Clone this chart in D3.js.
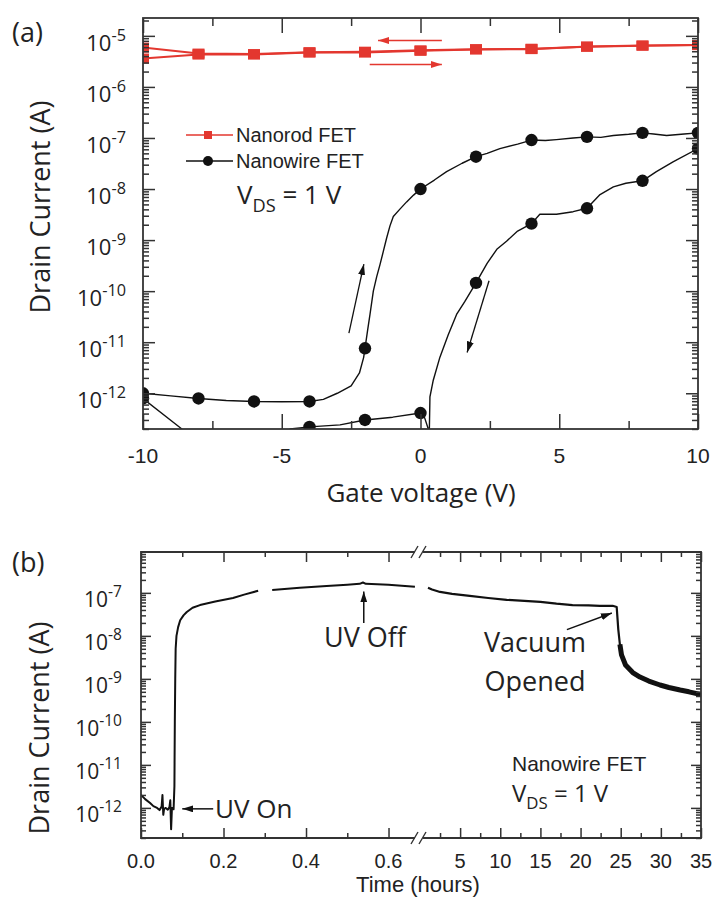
<!DOCTYPE html>
<html>
<head>
<meta charset="utf-8">
<script src="https://cdn.jsdelivr.net/npm/d3@7"></script>
</head>
<body style="margin:0">
<svg id="fig" width="713" height="899"></svg>
<script>
// ---------- panel (a): transfer curves, Id vs Vg ----------
var rodVg  = [-10, -8, -6, -4, -2, 0, 2, 4, 6, 8, 10];
var rodFwd = [3.6e-6, 4.3e-6, 4.3e-6, 4.7e-6, 4.7e-6, 5.1e-6, 5.4e-6, 5.5e-6, 6.2e-6, 6.5e-6, 6.6e-6];
var rodRev = [5.9e-6, 4.5e-6, 4.4e-6, 4.8e-6, 4.9e-6, 5.2e-6, 5.5e-6, 5.6e-6, 6.1e-6, 6.4e-6, 6.6e-6];

// nanowire, sweep -10 -> 10
var wireFwdVg = [-10, -9, -8, -7, -6, -5, -4, -3.5, -3, -2.5, -2.2, -2.05, -2, -1.9, -1.82, -1.7, -1.58, -1.46,
                 -1.34, -1.22, -1.1, -0.98, -0.75, -0.5, -0.25, 0, 0.5, 0.94, 1.5, 2, 2.4, 2.86, 3.5, 4, 4.5, 4.9,
                 5.5, 6, 6.5, 6.95, 7.5, 8, 8.4, 8.87, 9.5, 10];
var wireFwdI  = [1.0e-12, 8.9e-13, 7.9e-13, 7.2e-13, 6.9e-13, 6.8e-13, 6.9e-13, 7.6e-13, 1.0e-12, 1.4e-12, 2.5e-12,
                 5.0e-12, 7.6e-12, 1.8e-11, 3.5e-11, 1.0e-10, 1.9e-10, 3.3e-10, 6.0e-10, 1.1e-9, 1.9e-9, 2.9e-9,
                 4.0e-9, 5.6e-9, 7.6e-9, 1.0e-8, 1.5e-8, 2.2e-8, 3.2e-8, 4.3e-8, 5.0e-8, 6.2e-8, 7.6e-8, 9.1e-8,
                 8.9e-8, 9.3e-8, 1.0e-7, 1.05e-7, 1.03e-7, 1.12e-7, 1.18e-7, 1.26e-7, 1.2e-7, 1.12e-7, 1.2e-7, 1.26e-7];
// nanowire, sweep 10 -> -10
var wireRevVg = [10, 9.1, 8.5, 8, 7.4, 6.95, 6.47, 6, 5.5, 4.9, 4.3, 4, 3.5, 3.1, 2.75, 2.4, 2, 1.6, 1.3, 1.0,
                 0.7, 0.46, 0.34, 0.32, 0.30, 0.28, 0.15, 0, -1, -2, -2.9, -4, -4.7, -5, -6, -8, -8.3, -8.6, -10];
var wireRevI  = [6.2e-8, 3.4e-8, 2.2e-8, 1.45e-8, 1.3e-8, 1.1e-8, 7.8e-9, 4.2e-9, 3.6e-9, 3.2e-9, 3.2e-9, 2.1e-9,
                 1.5e-9, 9.5e-10, 6.6e-10, 3.5e-10, 1.45e-10, 6.3e-11, 3.5e-11, 1.4e-11, 5.1e-12, 1.8e-12, 8.5e-13,
                 2.0e-13, 3.0e-14, 2.0e-13, 3.3e-13, 4.1e-13, 3.4e-13, 3.0e-13, 2.4e-13, 2.2e-13, 2.0e-13, 6.0e-14,
                 6.0e-14, 6.0e-14, 6.0e-14, 2.0e-13, 7.9e-13];

var gateMajor = [-10, -5, 0, 5, 10];
var gateMinor = [-7.5, -2.5, 2.5, 7.5];

// ---------- panel (b): current vs time, broken time axis ----------
var timeA = [0, 0.01, 0.022, 0.03, 0.039, 0.045, 0.05, 0.052, 0.054, 0.056, 0.06, 0.065, 0.069, 0.071, 0.073, 0.075,
             0.079, 0.081, 0.082, 0.083, 0.084, 0.086, 0.09, 0.095, 0.103, 0.111, 0.125, 0.143, 0.18, 0.223, 0.25,
             0.284, 0.30, 0.318, 0.385, 0.45, 0.50, 0.53, 0.538, 0.545, 0.60, 0.664];
var currA = [2.0e-12, 1.6e-12, 1.3e-12, 1.1e-12, 1.0e-12, 8.9e-13, 1.07e-12, 2.0e-12, 6.9e-13, 9.5e-13, 1.0e-12,
             9.1e-13, 1.05e-12, 1.5e-12, 3.2e-13, 1.0e-12, 9.3e-13, 3.2e-12, 1e-10, 1e-9, 5e-9, 1e-8, 1.6e-8, 2.3e-8,
             3.0e-8, 3.6e-8, 4.5e-8, 5.2e-8, 6.3e-8, 7.6e-8, 9.1e-8, 1.12e-7, null, 1.17e-7, 1.32e-7, 1.45e-7,
             1.55e-7, 1.62e-7, 1.74e-7, 1.62e-7, 1.55e-7, 1.38e-7];
var timeB = [1, 1.5, 2.5, 4, 6.2, 8.5, 10.8, 13, 15, 17, 19, 21, 22.4, 24, 24.5, 24.7, 24.9, 25.1, 25.6, 26.5,
             27.4, 28.5, 29.9, 31, 32.4, 33.5, 35];
var currB = [1.32e-7, 1.2e-7, 1.05e-7, 9.5e-8, 8.5e-8, 7.6e-8, 6.9e-8, 6.5e-8, 6.2e-8, 5.6e-8, 5.2e-8, 5.1e-8,
             5.0e-8, 5.0e-8, 4.7e-8, 1.4e-8, 6.3e-9, 3.6e-9, 2.1e-9, 1.4e-9, 1.1e-9, 8.9e-10, 7.2e-10, 6.3e-10,
             5.5e-10, 5.0e-10, 4.3e-10];

var timeMajorA = [0, 0.2, 0.4, 0.6];
var timeMinorA = [0.1, 0.3, 0.5];
var timeMajorB = [5, 10, 15, 20, 25, 30, 35];
var timeMinorB = [2.5, 7.5, 12.5, 17.5, 22.5, 27.5, 32.5];

// ---------------------------------------------------------------
var svg = d3.select("#fig");
var arial = "'Liberation Sans', Arial, sans-serif";
var openSans = "'Open Sans', 'Noto Sans', sans-serif";
var red = "#e3372f";
var ink = "#111";
var axisColor = "#333";

var defs = svg.append("defs");
function arrowHead(id, color, w, l) {
    defs.append("marker")
        .attr("id", id)
        .attr("markerUnits", "userSpaceOnUse")
        .attr("markerWidth", l).attr("markerHeight", w)
        .attr("viewBox", "0 0 " + l + " " + w)
        .attr("refX", l).attr("refY", w / 2)
        .attr("orient", "auto")
        .append("path")
        .attr("d", "M0,0L" + l + "," + (w / 2) + "L0," + w + "Z")
        .attr("fill", color);
}
arrowHead("headK", ink, 7, 11);
arrowHead("headR", red, 7, 11);

function isMajor(d) {
    var l = Math.log10(d);
    return Math.abs(l - Math.round(l)) < 1e-6;
}

// one d3 axis per edge, ticks turned inward, no labels, no domain line
function inTicks(maker, scale, vals, tx, ty, len) {
    var g = svg.append("g")
        .attr("transform", "translate(" + tx + "," + ty + ")")
        .call(maker(scale).tickValues(vals).tickSizeInner(-len).tickSizeOuter(0).tickFormat(""));
    g.select(".domain").remove();
    g.selectAll(".tick line").attr("stroke", axisColor).attr("stroke-width", 1.5);
    return g;
}
function logTicks(y, left, right, majLen, minLen) {
    var all = y.ticks();
    var major = all.filter(isMajor);
    var minor = all.filter(function(d) { return !isMajor(d); });
    inTicks(d3.axisLeft, y, minor, left, 0, minLen);
    inTicks(d3.axisRight, y, minor, right, 0, minLen);
    inTicks(d3.axisLeft, y, major, left, 0, majLen);
    inTicks(d3.axisRight, y, major, right, 0, majLen);
}

function logLabels(g, y, labelX, fs, dy) {
    var major = y.ticks().filter(isMajor);
    g.append("g").selectAll("text").data(major).enter().append("text")
        .attr("x", labelX)
        .attr("y", function(d) { return y(d) + dy; })
        .attr("text-anchor", "end")
        .attr("font-family", openSans)
        .attr("font-size", fs)
        .attr("fill", "#222")
        .each(function(d) {
            var t = d3.select(this);
            t.append("tspan").text("10");
            t.append("tspan").attr("dy", "-0.62em").attr("font-size", "0.74em")
                .text(Math.round(Math.log10(d)));
        });
}

function xLabels(g, x, vals, yy, fmt, fs) {
    g.append("g").selectAll("text").data(vals).enter().append("text")
        .attr("x", function(d) { return x(d); })
        .attr("y", yy)
        .attr("text-anchor", "middle")
        .attr("font-family", arial).attr("font-size", fs).attr("fill", "#222")
        .text(fmt);
}

function pts(xs, ys) {
    return xs.map(function(v, i) { return { x: v, y: ys[i] }; });
}

// ================= panel (a) =================
var xA = d3.scaleLinear().domain([-10, 10]).range([143, 698]);
var yA = d3.scaleLog().domain([Math.pow(10, -12.7), Math.pow(10, -4.65)]).range([429, 18]);
var gA = svg.append("g");

defs.append("clipPath").attr("id", "clipA").append("rect")
    .attr("x", 143).attr("y", 18).attr("width", 555).attr("height", 411);

logLabels(gA, yA, 126, 22, 15);
xLabels(gA, xA, gateMajor, 463, function(d) { return String(d); }, 21);

var plotA = gA.append("g").attr("clip-path", "url(#clipA)");
var lineA = d3.line()
    .x(function(d) { return xA(d.x); })
    .y(function(d) { return yA(d.y); });

var rodF = pts(rodVg, rodFwd), rodR = pts(rodVg, rodRev);
var wireF = pts(wireFwdVg, wireFwdI), wireR = pts(wireRevVg, wireRevI);

[rodF, rodR].forEach(function(s) {
    plotA.append("path").datum(s)
        .attr("fill", "none").attr("stroke", red).attr("stroke-width", 2)
        .attr("d", lineA);
});
plotA.append("path").datum(wireF.concat(wireR))
    .attr("fill", "none").attr("stroke", ink).attr("stroke-width", 1.4)
    .attr("stroke-linejoin", "round")
    .attr("d", lineA);

var sq = 12;
plotA.selectAll("rect.rod")
    .data(rodF.concat(rodR))
    .enter().append("rect")
    .attr("class", "rod")
    .attr("x", function(d) { return xA(d.x) - sq / 2; })
    .attr("y", function(d) { return yA(d.y) - sq / 2 + 1; })
    .attr("width", sq).attr("height", sq - 2)
    .attr("fill", red);

var onEven = function(d) { return Number.isInteger(d.x) && d.x % 2 === 0; };
plotA.selectAll("circle.wire")
    .data(wireF.filter(onEven).concat(wireR.filter(onEven)))
    .enter().append("circle")
    .attr("class", "wire")
    .attr("cx", function(d) { return xA(d.x); })
    .attr("cy", function(d) { return yA(d.y); })
    .attr("r", 6.2)
    .attr("fill", ink);

gA.append("rect")
    .attr("x", 143).attr("y", 18).attr("width", 555).attr("height", 411)
    .attr("fill", "none").attr("stroke", axisColor).attr("stroke-width", 1.8);

// sweep direction arrows
function arrowA(x1, y1, x2, y2, color, head, w) {
    gA.append("line")
        .attr("x1", xA(x1)).attr("y1", yA(y1))
        .attr("x2", xA(x2)).attr("y2", yA(y2))
        .attr("stroke", color).attr("stroke-width", w)
        .attr("marker-end", "url(#" + head + ")");
}
arrowA(0.77, 8.1e-6, -1.53, 8.1e-6, red, "headR", 1.6);
arrowA(-1.83, 2.75e-6, 0.77, 2.75e-6, red, "headR", 1.6);
arrowA(-2.58, 1.5e-11, -2.04, 3.4e-10, ink, "headK", 1.3);
arrowA(2.47, 1.6e-10, 1.68, 6.3e-12, ink, "headK", 1.3);

// legend
var legA = gA.append("g");
legA.append("line").attr("x1", 186).attr("x2", 233).attr("y1", 135).attr("y2", 135)
    .attr("stroke", red).attr("stroke-width", 1.6);
legA.append("rect").attr("x", 204).attr("y", 131).attr("width", 8).attr("height", 8).attr("fill", red);
legA.append("line").attr("x1", 186).attr("x2", 233).attr("y1", 161).attr("y2", 161)
    .attr("stroke", ink).attr("stroke-width", 1.6);
legA.append("circle").attr("cx", 208).attr("cy", 161).attr("r", 5).attr("fill", ink);
legA.append("text").attr("x", 236).attr("y", 142).attr("font-family", arial).attr("font-size", 20)
    .attr("fill", "#222").text("Nanorod FET");
legA.append("text").attr("x", 236).attr("y", 168).attr("font-family", arial).attr("font-size", 20)
    .attr("fill", "#222").text("Nanowire FET");

function vds(g, x, y, fs) {
    var t = g.append("text").attr("x", x).attr("y", y)
        .attr("font-family", openSans).attr("font-size", fs).attr("fill", "#222");
    t.append("tspan").text("V");
    t.append("tspan").attr("dy", fs * 0.3).attr("font-size", fs * 0.7).text("DS");
    t.append("tspan").attr("dy", -fs * 0.3).text(" = 1 V");
}
vds(gA, 237, 204, 26);

// titles
svg.append("text").attr("x", 12).attr("y", 42).attr("font-family", openSans).attr("font-size", 27)
    .attr("fill", "#222").text("(a)");
svg.append("text").attr("transform", "translate(50,207) rotate(-90)")
    .attr("text-anchor", "middle").attr("font-family", openSans).attr("font-size", 27)
    .attr("fill", "#222").text("Drain Current (A)");
svg.append("text").attr("x", 421).attr("y", 502).attr("text-anchor", "middle")
    .attr("font-family", openSans).attr("font-size", 26).attr("fill", "#222").text("Gate voltage (V)");

// ================= panel (b) =================
var xB1 = d3.scaleLinear().domain([0, 0.67]).range([141, 417.4]);
var xB2 = d3.scaleLinear().domain([1, 35]).range([428, 701]);
var yB = d3.scaleLog().domain([Math.pow(10, -12.7), Math.pow(10, -6.05)]).range([838, 552]);
var gB = svg.append("g");

defs.append("clipPath").attr("id", "clipB").append("rect")
    .attr("x", 141).attr("y", 552).attr("width", 560).attr("height", 286);

logLabels(gB, yB, 122, 21, 14);
xLabels(gB, xB1, timeMajorA, 868, d3.format(".1f"), 20);
xLabels(gB, xB2, timeMajorB, 868, d3.format("d"), 20);

var plotB = gB.append("g").attr("clip-path", "url(#clipB)");
var dA = pts(timeA, currA), dB = pts(timeB, currB);
var lineB1 = d3.line()
    .defined(function(d) { return d.y != null; })
    .x(function(d) { return xB1(d.x); })
    .y(function(d) { return yB(d.y); });
var lineB2 = d3.line()
    .x(function(d) { return xB2(d.x); })
    .y(function(d) { return yB(d.y); });

plotB.append("path").datum(dA)
    .attr("fill", "none").attr("stroke", ink).attr("stroke-width", 2)
    .attr("stroke-linejoin", "round").attr("d", lineB1);
plotB.append("path").datum(dB)
    .attr("fill", "none").attr("stroke", ink).attr("stroke-width", 2.2)
    .attr("stroke-linejoin", "round").attr("d", lineB2);
// noisy tail after venting: drawn as a thick band
plotB.append("path").datum(dB.filter(function(d) { return d.x >= 24.9; }))
    .attr("fill", "none").attr("stroke", ink).attr("stroke-width", 5)
    .attr("stroke-linejoin", "round").attr("d", lineB2);

// frame with axis break
var fr = gB.append("g").attr("stroke", axisColor).attr("stroke-width", 1.8).attr("fill", "none");
fr.append("path").attr("d", "M415,552H141V838H415");
fr.append("path").attr("d", "M423,552H701V838H423");
[552, 838].forEach(function(yy) {
    fr.append("path").attr("stroke-width", 1.4)
        .attr("d", "M411," + (yy + 6) + "L418," + (yy - 6) + "M419," + (yy + 6) + "L426," + (yy - 6));
});

function arrowB(p1, p2) {
    gB.append("line")
        .attr("x1", p1[0]).attr("y1", yB(p1[1]))
        .attr("x2", p2[0]).attr("y2", yB(p2[1]))
        .attr("stroke", ink).attr("stroke-width", 1.5)
        .attr("marker-end", "url(#headK)");
}
arrowB([xB1(0.175), 9.5e-13], [xB1(0.1), 9.5e-13]);
arrowB([xB1(0.54), 2e-8], [xB1(0.54), 1.08e-7]);
arrowB([xB2(18.3), 1.4e-8], [xB2(23.9), 3.4e-8]);

function note(x, y, str, anchor, fs) {
    gB.append("text").attr("x", x).attr("y", y).attr("text-anchor", anchor)
        .attr("font-family", openSans).attr("font-size", fs).attr("fill", "#222").text(str);
}
note(215, 818, "UV On", "start", 26);
note(365, 647, "UV Off", "middle", 27);
note(535, 652, "Vacuum", "middle", 27);
note(535, 691, "Opened", "middle", 27);

gB.append("text").attr("x", 512).attr("y", 771).attr("font-family", arial).attr("font-size", 21)
    .attr("fill", "#222").text("Nanowire FET");
vds(gB, 512, 802, 24);

svg.append("text").attr("x", 12).attr("y", 572).attr("font-family", openSans).attr("font-size", 27)
    .attr("fill", "#222").text("(b)");
svg.append("text").attr("transform", "translate(49,728) rotate(-90)")
    .attr("text-anchor", "middle").attr("font-family", openSans).attr("font-size", 27)
    .attr("fill", "#222").text("Drain Current (A)");
svg.append("text").attr("x", 418).attr("y", 892).attr("text-anchor", "middle")
    .attr("font-family", arial).attr("font-size", 22).attr("fill", "#222").text("Time (hours)");

// ================= inward tick marks, drawn last =================
logTicks(yA, 143, 698, 12, 6);
inTicks(d3.axisBottom, xA, gateMinor, 0, 429, 8);
inTicks(d3.axisBottom, xA, gateMajor, 0, 429, 15);
inTicks(d3.axisTop, xA, gateMinor, 0, 18, 8);
inTicks(d3.axisTop, xA, gateMajor, 0, 18, 15);

logTicks(yB, 141, 701, 10, 5);
[[xB1, timeMajorA, timeMinorA], [xB2, timeMajorB, timeMinorB]].forEach(function(s) {
    inTicks(d3.axisBottom, s[0], s[2], 0, 838, 5);
    inTicks(d3.axisBottom, s[0], s[1], 0, 838, 10);
    inTicks(d3.axisTop, s[0], s[2], 0, 552, 5);
    inTicks(d3.axisTop, s[0], s[1], 0, 552, 10);
});
</script>
</body>
</html>
